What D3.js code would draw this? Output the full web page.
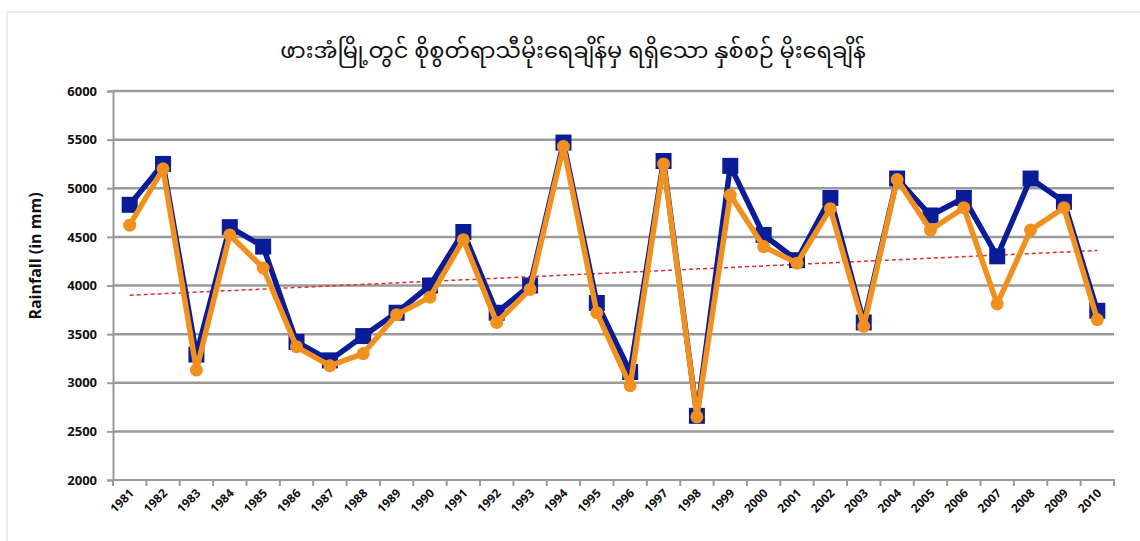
<!DOCTYPE html>
<html>
<head>
<meta charset="utf-8">
<script src="https://cdn.jsdelivr.net/npm/d3@7"></script>
<style>
  html, body { margin: 0; padding: 0; background: #fff; }
  svg { display: block; }
</style>
</head>
<body>
<svg id="chart" width="1140" height="541"></svg>
<script>
// ---- data ----
const years = ['1981', '1982', '1983', '1984', '1985', '1986', '1987', '1988', '1989', '1990',
    '1991', '1992', '1993', '1994', '1995', '1996', '1997', '1998', '1999', '2000',
    '2001', '2002', '2003', '2004', '2005', '2006', '2007', '2008', '2009', '2010'];

const blueSeries = [4830, 5250, 3290, 4600, 4400, 3420, 3230, 3480, 3720, 4000,
    4550, 3720, 4000, 5470, 3820, 3110, 5280, 2660, 5230, 4520,
    4260, 4900, 3620, 5100, 4720, 4900, 4300, 5100, 4860, 3740];

const orangeSeries = [4620, 5200, 3130, 4520, 4180, 3370, 3175, 3300, 3700, 3880,
    4470, 3620, 3960, 5430, 3720, 2970, 5250, 2650, 4930, 4400,
    4230, 4790, 3580, 5090, 4570, 4800, 3810, 4570, 4800, 3650];

// dashed trend line, first and last year
const trendYears = ['1981', '2010'];
const trendValues = [3900, 4360];

const yTicks = [2000, 2500, 3000, 3500, 4000, 4500, 5000, 5500, 6000];

const title = 'ဖားအံမြို့တွင် စိုစွတ်ရာသီမိုးရေချိန်မှ ရရှိသော နှစ်စဉ် မိုးရေချိန်';
const yLabel = 'Rainfall (in mm)';

// ---- colours ----
const COLORS = {
    blue: '#0b1c98',
    orange: '#f0901f',
    trend: '#e0302a',
    grid: '#9a9a9a',
    ink: '#111',
    frame: '#ececec',
};

const svg = d3.select('#chart');
const margin = { top: 91, right: 26, bottom: 61, left: 113 };
const width = 1140 - margin.left - margin.right;
const height = 541 - margin.top - margin.bottom;

// faint frame around the chart
svg.append('rect')
    .attr('x', 7).attr('y', 12)
    .attr('width', 1150).attr('height', 560)
    .attr('fill', 'none')
    .attr('stroke', COLORS.frame)
    .attr('stroke-width', 2);

svg.append('text')
    .attr('x', 573).attr('y', 58)
    .attr('text-anchor', 'middle')
    .attr('font-family', "'Noto Sans Myanmar', Padauk, 'Myanmar Text', 'Noto Sans', sans-serif")
    .attr('font-size', 22.5)
    .attr('fill', COLORS.ink)
    .text(title);

const g = svg.append('g').attr('transform', `translate(${margin.left}, ${margin.top})`);

const x = d3.scaleBand().domain(years).range([0, width]);
const y = d3.scaleLinear().domain([2000, 6000]).range([height, 0]);
const cx = (d) => x(d) + x.bandwidth() / 2;

// gridlines
g.selectAll('.grid')
    .data(yTicks.slice(1))
    .enter()
    .append('line')
    .attr('x1', 0).attr('x2', width)
    .attr('y1', (d) => y(d)).attr('y2', (d) => y(d))
    .attr('stroke', COLORS.grid)
    .attr('stroke-width', 2.5);

// y axis
const yAxis = g.append('g')
    .call(d3.axisLeft(y).tickValues(yTicks).tickFormat(d3.format('d')).tickSize(6).tickPadding(10));
yAxis.select('.domain').attr('stroke', COLORS.grid).attr('stroke-width', 2);
yAxis.selectAll('.tick line').attr('stroke', COLORS.grid).attr('stroke-width', 2);
yAxis.selectAll('.tick text')
    .attr('font-family', "'Open Sans', 'DejaVu Sans', sans-serif")
    .attr('font-weight', 700)
    .attr('font-size', 13)
    .attr('fill', COLORS.ink);

// x axis: ticks on band boundaries
const xAxis = g.append('g').attr('transform', `translate(0, ${height})`);
xAxis.append('line')
    .attr('x1', 0).attr('x2', width)
    .attr('stroke', COLORS.grid).attr('stroke-width', 2);
xAxis.selectAll('.xtick')
    .data(years.concat(['end']))
    .enter()
    .append('line')
    .attr('x1', (d, i) => i * x.step()).attr('x2', (d, i) => i * x.step())
    .attr('y1', -1).attr('y2', 6)
    .attr('stroke', COLORS.grid).attr('stroke-width', 2);
xAxis.selectAll('.xlabel')
    .data(years)
    .enter()
    .append('text')
    .attr('text-anchor', 'end')
    .attr('transform', (d) => `translate(${cx(d) + 5}, ${14}) rotate(-45)`)
    .attr('font-family', "'Open Sans', 'DejaVu Sans', sans-serif")
    .attr('font-weight', 700)
    .attr('font-size', 12)
    .attr('fill', COLORS.ink)
    .text((d) => d);

// y label
svg.append('text')
    .attr('transform', `translate(41, 256) rotate(-90)`)
    .attr('text-anchor', 'middle')
    .attr('font-family', "'Open Sans', 'DejaVu Sans', sans-serif")
    .attr('font-weight', 700)
    .attr('font-size', 16)
    .attr('fill', COLORS.ink)
    .text(yLabel);

// trend line
const trendLine = d3.line().x((d) => cx(d[0])).y((d) => y(d[1]));
g.append('path')
    .datum(d3.zip(trendYears, trendValues))
    .attr('d', trendLine)
    .attr('fill', 'none')
    .attr('stroke', COLORS.trend)
    .attr('stroke-width', 1.5)
    .attr('stroke-dasharray', '4,3');

const line = d3.line().x((d) => cx(d[0])).y((d) => y(d[1]));

// blue series with square markers
const blueData = d3.zip(years, blueSeries);
g.append('path')
    .datum(blueData)
    .attr('d', line)
    .attr('fill', 'none')
    .attr('stroke', COLORS.blue)
    .attr('stroke-width', 5.5)
    .attr('stroke-linejoin', 'round');
g.selectAll('.sq')
    .data(blueData)
    .enter()
    .append('rect')
    .attr('x', (d) => cx(d[0]) - 8)
    .attr('y', (d) => y(d[1]) - 8)
    .attr('width', 16).attr('height', 16)
    .attr('fill', COLORS.blue);

// orange series with round markers
const orangeData = d3.zip(years, orangeSeries);
g.append('path')
    .datum(orangeData)
    .attr('d', line)
    .attr('fill', 'none')
    .attr('stroke', COLORS.orange)
    .attr('stroke-width', 5.5)
    .attr('stroke-linejoin', 'round');
g.selectAll('.dot')
    .data(orangeData)
    .enter()
    .append('circle')
    .attr('cx', (d) => cx(d[0]))
    .attr('cy', (d) => y(d[1]))
    .attr('r', 6.5)
    .attr('fill', COLORS.orange);
</script>
</body>
</html>
